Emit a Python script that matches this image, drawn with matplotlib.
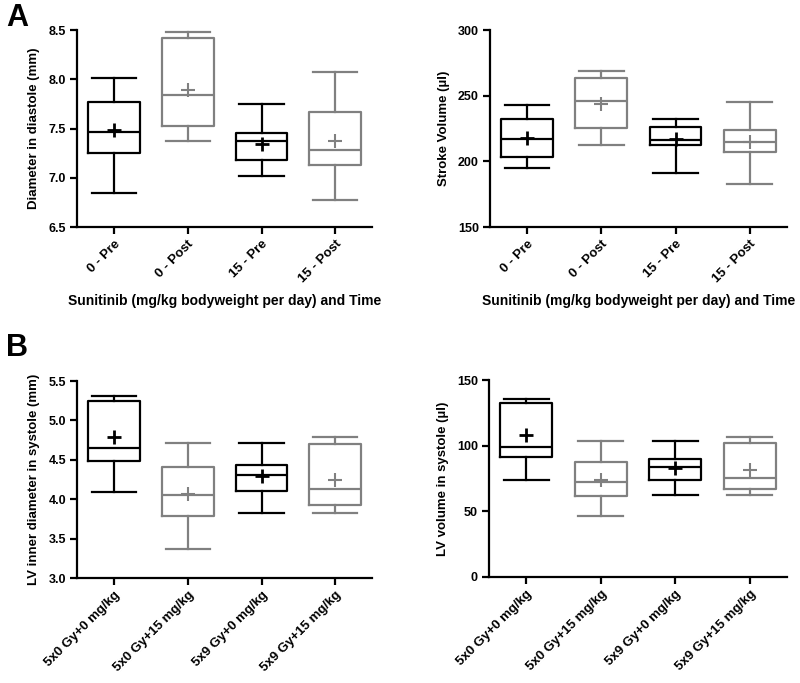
import matplotlib
matplotlib.use("Agg")
import matplotlib.pyplot as plt

plt.rcParams['font.family'] = ['Liberation Sans', 'DejaVu Sans']
plt.rcParams['font.weight'] = 'bold'

BLACK = '#000000'
GREY = '#808080'

# panel A categories
time_groups = ['0 - Pre', '0 - Post', '15 - Pre', '15 - Post']
# panel B categories
dose_groups = ['5x0 Gy+0 mg/kg', '5x0 Gy+15 mg/kg', '5x9 Gy+0 mg/kg', '5x9 Gy+15 mg/kg']

# each: [whisker low, q1, median, q3, whisker high], plus means
diastole_stats = [[6.85, 7.25, 7.46, 7.77, 8.01],
                  [7.37, 7.53, 7.84, 8.42, 8.48],
                  [7.02, 7.18, 7.37, 7.455, 7.75],
                  [6.77, 7.13, 7.28, 7.67, 8.07]]
diastole_means = [7.49, 7.89, 7.34, 7.37]

stroke_stats = [[195.1, 203.5, 216.7, 232.4, 242.7],
                [212.6, 225.5, 246.0, 263.3, 269.1],
                [190.8, 212.3, 216.1, 226.5, 232.4],
                [182.9, 206.8, 215.1, 223.7, 245.3]]
stroke_means = [217.7, 244.0, 216.9, 214.8]

systole_diam_stats = [[4.09, 4.49, 4.647, 5.25, 5.31],
                      [3.367, 3.79, 4.056, 4.415, 4.72],
                      [3.82, 4.10, 4.31, 4.44, 4.72],
                      [3.82, 3.93, 4.125, 4.70, 4.79]]
systole_diam_means = [4.79, 4.07, 4.29, 4.24]

systole_vol_stats = [[73.7, 91.7, 99.3, 132.3, 135.3],
                     [46.1, 61.6, 72.0, 87.9, 103.4],
                     [62.8, 74.0, 83.4, 89.7, 103.4],
                     [62.8, 67.1, 75.2, 102.1, 106.4]]
systole_vol_means = [107.9, 73.5, 82.8, 81.1]

colors = [BLACK, GREY, BLACK, GREY]


def box_panel(ax, stats, means, labels, ylim, yticks, yfmt, ylabel, xlabel=None):
    for i, (s, m) in enumerate(zip(stats, means)):
        d = dict(whislo=s[0], q1=s[1], med=s[2], q3=s[3], whishi=s[4], mean=m, fliers=[])
        c = colors[i]
        mew = 2 if c == BLACK else 1.5
        ax.bxp([d], positions=[i], widths=0.7, capwidths=0.6, showmeans=True,
               showfliers=False,
               boxprops=dict(color=c, linewidth=1.6),
               whiskerprops=dict(color=c, linewidth=1.6),
               capprops=dict(color=c, linewidth=1.6),
               medianprops=dict(color=c, linewidth=1.6),
               meanprops=dict(marker='+', markeredgecolor=c, markersize=10,
                              markeredgewidth=mew))
    ax.set_xlim(-0.5, 3.5)
    ax.set_ylim(*ylim)
    ax.set_yticks(yticks)
    ax.set_yticklabels([yfmt.format(v) for v in yticks], fontsize=9, fontweight='bold')
    ax.set_xticks(range(len(labels)))
    ax.set_xticklabels(labels, rotation=45, ha='right', rotation_mode='anchor',
                       fontsize=9.5, fontweight='bold')
    for sp in ['top', 'right']:
        ax.spines[sp].set_visible(False)
    for sp in ['left', 'bottom']:
        ax.spines[sp].set_linewidth(1.6)
    ax.tick_params(width=1.6, length=5, pad=3)
    ax.set_ylabel(ylabel, fontsize=9.5, fontweight='bold', labelpad=6)
    if xlabel:
        ax.set_xlabel(xlabel, fontsize=10, fontweight='bold', labelpad=6)


fig = plt.figure(figsize=(8, 6.83), dpi=100)

ax1 = fig.add_axes([0.09625, 0.6676, 0.369, 0.2884])
ax2 = fig.add_axes([0.6125, 0.6676, 0.371, 0.2884])
ax3 = fig.add_axes([0.09625, 0.1537, 0.369, 0.2884])
ax4 = fig.add_axes([0.6112, 0.1552, 0.3725, 0.2884])

xl = 'Sunitinib (mg/kg bodyweight per day) and Time'
box_panel(ax1, diastole_stats, diastole_means, time_groups, (6.5, 8.5),
          [6.5, 7.0, 7.5, 8.0, 8.5], '{:.1f}', 'Diameter in diastole (mm)', xl)
box_panel(ax2, stroke_stats, stroke_means, time_groups, (150, 300),
          [150, 200, 250, 300], '{:.0f}', 'Stroke Volume (µl)', xl)
box_panel(ax3, systole_diam_stats, systole_diam_means, dose_groups, (3.0, 5.5),
          [3.0, 3.5, 4.0, 4.5, 5.0, 5.5], '{:.1f}', 'LV inner diameter in systole (mm)')
box_panel(ax4, systole_vol_stats, systole_vol_means, dose_groups, (0, 150),
          [0, 50, 100, 150], '{:.0f}', 'LV volume in systole (µl)')

fig.text(0.008, 0.995, 'A', fontsize=22, fontweight='bold', va='top', ha='left')
fig.text(0.008, 0.512, 'B', fontsize=22, fontweight='bold', va='top', ha='left')

fig.savefig('out.png', dpi=100)
